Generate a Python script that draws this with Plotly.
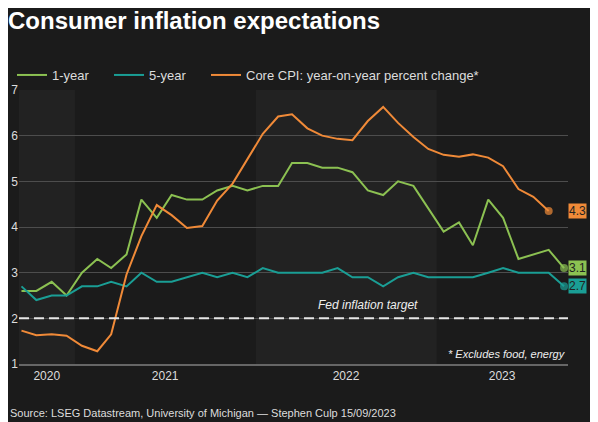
import plotly.graph_objects as go

# ---- data (monthly, Sep 2020 - Sep 2023) ----
start_year, start_month = 2020, 9
n_months = 37
months = []
for i in range(n_months):
    m = start_month - 1 + i
    months.append(f"{start_year + m // 12}-{m % 12 + 1:02d}-15")

one_year = [2.6, 2.6, 2.8, 2.5,
            3.0, 3.3, 3.1, 3.4, 4.6, 4.2, 4.7, 4.6, 4.6, 4.8, 4.9, 4.8,
            4.9, 4.9, 5.4, 5.4, 5.3, 5.3, 5.2, 4.8, 4.7, 5.0, 4.9, 4.4,
            3.9, 4.1, 3.6, 4.6, 4.2, 3.3, 3.4, 3.5, 3.1]
five_year = [2.7, 2.4, 2.5, 2.5,
             2.7, 2.7, 2.8, 2.7, 3.0, 2.8, 2.8, 2.9, 3.0, 2.9, 3.0, 2.9,
             3.1, 3.0, 3.0, 3.0, 3.0, 3.1, 2.9, 2.9, 2.7, 2.9, 3.0, 2.9,
             2.9, 2.9, 2.9, 3.0, 3.1, 3.0, 3.0, 3.0, 2.7]
core_cpi = [1.73, 1.63, 1.65, 1.62,
            1.40, 1.28, 1.65, 2.96, 3.80, 4.48, 4.26, 3.98, 4.02, 4.58, 4.95, 5.48,
            6.04, 6.42, 6.47, 6.16, 6.00, 5.93, 5.90, 6.32, 6.63, 6.28, 5.97, 5.71,
            5.58, 5.54, 5.59, 5.52, 5.33, 4.83, 4.66, 4.35]

year_labels = ["2020", "2021", "2022", "2023"]
year_label_pos = ["2020-11-05", "2021-07-02", "2022-07-02", "2023-05-13"]
band_edges = ["2020-09-10", "2021-01-01", "2022-01-01", "2023-01-01", "2023-09-23"]
fed_target = 2.0

end_labels = ["3.1", "2.7", "4.3"]
series_names = ["1-year", "5-year", "Core CPI: year-on-year percent change*"]

# ---- styles ----
BG = "#1b1b1b"
BAND_LIGHT = "#222222"
GREEN = "#8cc152"
TEAL = "#1a9e95"
ORANGE = "#f08a38"
TXT = "#dddddd"
FONT = "Arial, Liberation Sans, sans-serif"

# the page adds an 8px body margin, so the figure is 8px smaller than the window
W, H = 590, 414
ML, MR, MT, MB = 11, 30, 82, 58
PW = W - ML - MR


def end_sizes(n, size=8):
    return [0] * (n - 1) + [size]


fig = go.Figure()
series = list(zip(series_names, [one_year, five_year, core_cpi], [GREEN, TEAL, ORANGE]))
legend_ids = ["legend", "legend2", "legend3"]
for (name, vals, col), lid in zip(series, legend_ids):
    fig.add_trace(go.Scatter(
        x=months[:len(vals)], y=vals, name=name, mode="lines+markers",
        line=dict(color=col, width=2),
        marker=dict(color=col, size=end_sizes(len(vals)), line=dict(width=0)),
        hoverinfo="skip", legend=lid,
    ))

shapes = []
for i in range(len(band_edges) - 1):
    if i % 2 == 0:
        shapes.append(dict(type="rect", xref="x", yref="paper",
                           x0=band_edges[i], x1=band_edges[i + 1], y0=0, y1=1,
                           fillcolor=BAND_LIGHT, line=dict(width=0), layer="below"))
shapes.append(dict(type="line", xref="paper", yref="y", x0=0, x1=1,
                   y0=fed_target, y1=fed_target,
                   line=dict(color="#e6e6e6", width=2, dash="10px,5px"), layer="above"))

annotations = [
    dict(text="<i>Fed inflation target</i>", xref="paper", yref="paper", x=0.636, y=0.215,
         showarrow=False, font=dict(size=12, color="#eeeeee", family=FONT),
         xanchor="center", yanchor="middle"),
    dict(text="<i>* Excludes food, energy</i>", xref="paper", yref="paper", x=1, y=0.037,
         showarrow=False, font=dict(size=11, color="#eeeeee", family=FONT),
         xanchor="right", yanchor="middle"),
    dict(text="Source: LSEG Datastream, University of Michigan \u2014 Stephen Culp 15/09/2023",
         xref="paper", yref="paper", x=-ML / PW, y=-0.179, showarrow=False,
         font=dict(size=11, color=TXT, family=FONT), xanchor="left", yanchor="middle"),
]
for (name, vals, col), lab in zip(series, end_labels):
    annotations.append(dict(
        text=lab, xref="paper", yref="y", x=1, y=vals[-1], xanchor="left", yanchor="middle",
        showarrow=False, bgcolor=col, borderpad=0, xshift=0,
        font=dict(size=12, color="#222222", family=FONT)))

legend_x_px = [4, 101, 198]
legend_common = dict(orientation="h", xanchor="left", y=1.0, yanchor="bottom",
                     bgcolor="rgba(0,0,0,0)", font=dict(size=13, color=TXT, family=FONT))

fig.update_layout(
    width=W, height=H, autosize=False,
    margin=dict(l=ML, r=MR, t=MT, b=MB, pad=0, autoexpand=False),
    paper_bgcolor=BG, plot_bgcolor=BG,
    font=dict(family=FONT, color=TXT),
    title=dict(text="<b>Consumer inflation expectations</b>", xref="container", yref="container",
               x=0, y=0.99, xanchor="left", yanchor="top", pad=dict(l=0, t=0),
               font=dict(size=24, color="#ffffff", family=FONT)),
    legend=dict(x=(legend_x_px[0] - ML) / PW, **legend_common),
    legend2=dict(x=(legend_x_px[1] - ML) / PW, **legend_common),
    legend3=dict(x=(legend_x_px[2] - ML) / PW, **legend_common),
    shapes=shapes, annotations=annotations,
    xaxis=dict(type="date", range=[band_edges[0], band_edges[-1]],
               tickvals=year_label_pos, ticktext=year_labels, ticks="",
               showgrid=False, zeroline=False, showline=True, linecolor="#666666", linewidth=1.5,
               tickfont=dict(size=12, color=TXT), automargin=False),
    yaxis=dict(range=[1, 7], dtick=1, showgrid=True, gridcolor="#4d4d4d", gridwidth=1,
               zeroline=False, ticks="", tickfont=dict(size=12, color=TXT), showline=False,
               automargin=False),
    showlegend=True,
)

fig.write_html("out.html")
